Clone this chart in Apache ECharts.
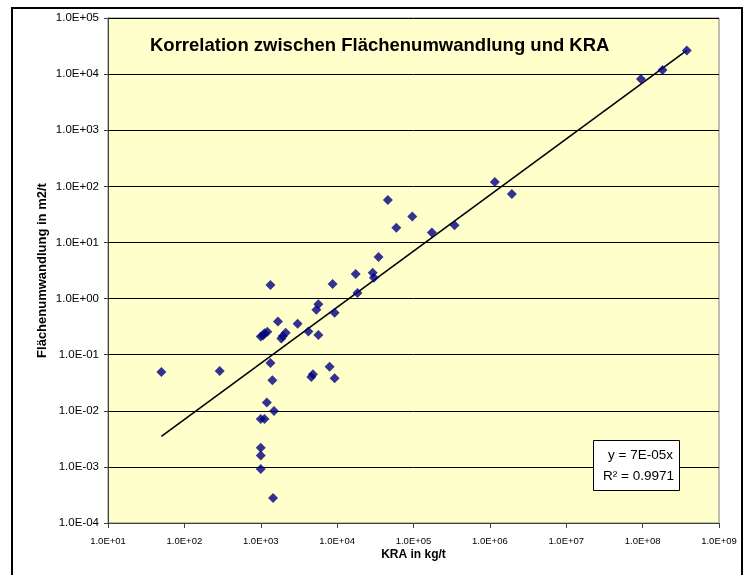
<!DOCTYPE html>
<html>
<head>
<meta charset="utf-8">
<script src="https://cdn.jsdelivr.net/npm/echarts@6/dist/echarts.min.js"></script>
<style>
  html, body { margin: 0; padding: 0; background: #ffffff; }
  #chart { width: 747px; height: 575px; }
</style>
</head>
<body>
<div id="chart"></div>
<script>
// KRA (kg/t) per material
const kra = [
  50, 290, 1000, 1120, 1000, 1000, 1000, 1450, 1200, 1490,
  1340, 1420, 1340, 1000, 1070, 1120, 1220, 1680, 1860, 1950,
  2120, 3040, 4200, 5680, 5680, 5350, 4590, 4820, 7980, 9270,
  9270, 8730, 17500, 18500, 29200, 30300, 34900, 46200, 59600, 96400,
  174000, 345000, 1160000, 1940000, 95000000, 182000000, 379000000
];
// Flächenumwandlung (m2/t) per material
const flaeche = [
  0.049, 0.051, 0.0071, 0.0071, 0.0022, 0.0016, 0.00092, 0.00028, 0.014, 0.0099,
  0.071, 0.035, 1.75, 0.21, 0.22, 0.24, 0.256, 0.39, 0.195, 0.215,
  0.246, 0.356, 0.26, 0.224, 0.79, 0.63, 0.040, 0.045, 0.061, 0.038,
  0.56, 1.82, 2.74, 1.26, 2.89, 2.36, 5.5, 57, 18.2, 28.9,
  15, 20.3, 120, 73, 8160, 11800, 26400
];
// linear trend through the origin: y = a * x
const trendSlope = [7e-5];
const trendText = ['y = 7E-05x', 'R² = 0.9971'];

const points = kra.map((x, i) => [x, flaeche[i]]);
const xMin = Math.min(...kra), xMax = Math.max(...kra);
const trend = [[xMin, trendSlope[0] * xMin], [xMax, trendSlope[0] * xMax]];

function sci(v) {
  const e = Math.round(Math.log10(v));
  return '1.0E' + (e < 0 ? '-' : '+') + String(Math.abs(e)).padStart(2, '0');
}

const FONT = 'Liberation Sans, Arial, sans-serif';
const chart = echarts.init(document.getElementById('chart'), null, { renderer: 'canvas' });
chart.setOption({
  backgroundColor: '#ffffff',
  animation: false,
  title: {
    text: 'Korrelation zwischen Flächenumwandlung und KRA',
    left: 145, top: 31,
    textStyle: { fontFamily: FONT, fontSize: 18.5, fontWeight: 'bold', color: '#000' }
  },
  grid: {
    left: 108, top: 18, width: 611, height: 505,
    show: true, backgroundColor: '#FFFFCC', borderColor: '#808080', borderWidth: 1
  },
  xAxis: {
    type: 'log', logBase: 10, min: 10, max: 1e9, interval: 1, splitNumber: 8,
    name: 'KRA in kg/t', nameLocation: 'middle', nameGap: 26, nameMoveOverlap: false,
    nameTextStyle: { fontFamily: FONT, fontSize: 12, fontWeight: 'bold', color: '#000' },
    axisLine: { show: true, lineStyle: { color: '#404040', width: 1 } },
    axisTick: { show: true, inside: false, length: 5, lineStyle: { color: '#404040' } },
    axisLabel: { formatter: sci, margin: 13, fontFamily: FONT, fontSize: 9.5, color: '#000' },
    splitLine: { show: false },
    minorTick: { show: false }
  },
  yAxis: {
    type: 'log', logBase: 10, min: 1e-4, max: 1e5, interval: 1, splitNumber: 9,
    name: 'Flächenumwandlung in m2/t', nameLocation: 'middle', nameGap: 59, nameRotate: 90,
    nameMoveOverlap: false,
    nameTextStyle: { fontFamily: FONT, fontSize: 13, fontWeight: 'bold', color: '#000' },
    axisLine: { show: true, lineStyle: { color: '#404040', width: 1 } },
    axisTick: { show: true, inside: false, length: 4, lineStyle: { color: '#404040' } },
    axisLabel: { formatter: sci, margin: 9, fontFamily: FONT, fontSize: 11.5, color: '#000' },
    splitLine: { show: true, lineStyle: { color: '#000', width: 1 } }
  },
  series: [
    {
      type: 'line', data: trend, showSymbol: false, symbol: 'none', z: 3,
      lineStyle: { color: '#000', width: 1.6 }, silent: true
    },
    {
      type: 'scatter', data: points, symbol: 'diamond', symbolSize: [10, 10], z: 4,
      itemStyle: { color: '#000080' }
    }
  ],
  graphic: [
    {
      type: 'rect', shape: { x: 12, y: 8, width: 730, height: 600 },
      style: { fill: 'none', stroke: '#000', lineWidth: 2 }, z: 100, silent: true
    },
    {
      type: 'rect', shape: { x: 593.5, y: 440.5, width: 86, height: 50 },
      style: { fill: '#ffffff', stroke: '#000', lineWidth: 1 }, z: 100
    },
    {
      type: 'text', x: 673, y: 455, z: 101,
      style: { text: trendText[0], align: 'right', verticalAlign: 'middle',
        font: '13.5px "Liberation Sans", Arial, sans-serif', fill: '#000' }
    },
    {
      type: 'text', x: 674, y: 476, z: 101,
      style: { text: trendText[1], align: 'right', verticalAlign: 'middle',
        font: '13.5px "Liberation Sans", Arial, sans-serif', fill: '#000' }
    }
  ]
});
</script>
</body>
</html>
